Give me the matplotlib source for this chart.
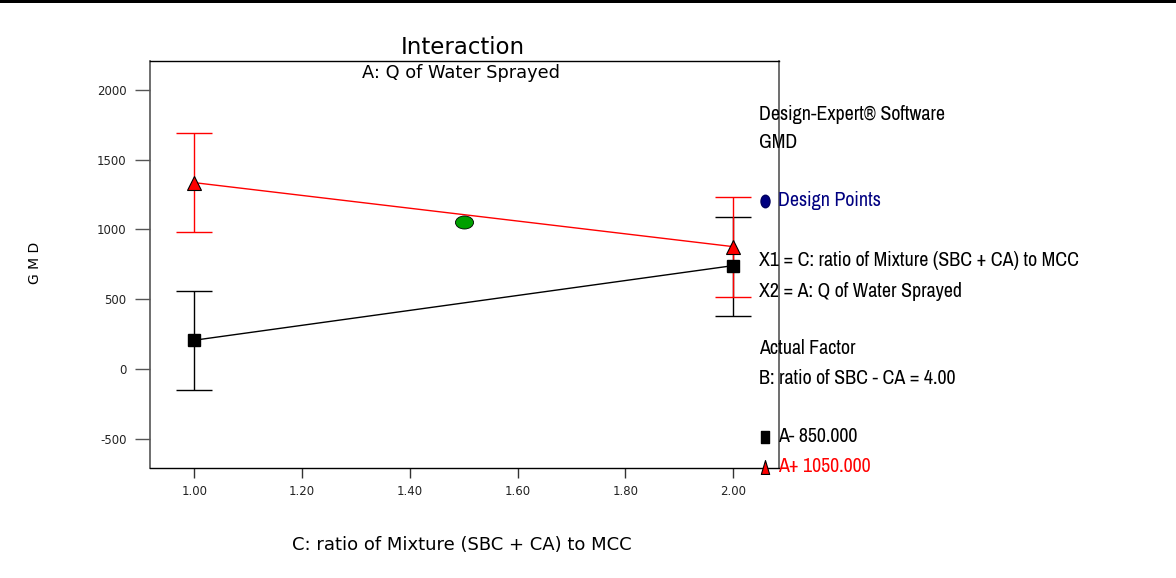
import matplotlib
matplotlib.use("Agg")
import matplotlib.pyplot as plt
import numpy as np
from matplotlib.path import Path
from matplotlib.lines import Line2D
from matplotlib.patches import Rectangle
from matplotlib import font_manager

# ---------------- data ----------------
c_levels = [1.00, 2.00]
a_minus_mean = [206, 741]
a_minus_low = [-153, 382]
a_minus_high = [562, 1092]
a_plus_mean = [1336, 877]
a_plus_low = [980, 519]
a_plus_high = [1695, 1232]
design_c = [1.50]
design_gmd = [1054]

x_ticks = [1.00, 1.20, 1.40, 1.60, 1.80, 2.00]
y_ticks = [-500, 0, 500, 1000, 1500, 2000]

info_lines = ["Design-Expert\u00ae Software", "GMD"]
x1_text = "X1 = C: ratio of Mixture (SBC + CA) to MCC"
x2_text = "X2 = A: Q of Water Sprayed"
actual_lines = ["Actual Factor", "B: ratio of SBC - CA = 4.00"]
lev_minus = "A- 850.000"
lev_plus = "A+ 1050.000"

# ---------------- fonts ----------------
plt.rcParams["font.family"] = ["DejaVu Sans"]
names = sorted({f.name for f in font_manager.fontManager.ttflist})
narrow_font = None
for key in ["Liberation Sans Narrow", "Arial Narrow"]:
    if key in names:
        narrow_font = key
        break
if narrow_font is None:
    for n in names:
        if ("Narrow" in n or "Condensed" in n) and "Mono" not in n and "Serif" not in n:
            narrow_font = n
            break
if narrow_font is None:
    narrow_font = "Liberation Sans" if "Liberation Sans" in names else "DejaVu Sans"

W, H = 1176, 578
fig = plt.figure(figsize=(W / 100, H / 100), dpi=100)
fig.patch.set_facecolor("white")

def fx(px):
    return px / W

def fy(py):
    return 1 - py / H

ax = fig.add_axes([fx(150), fy(468), fx(779) - fx(150), fy(61) - fy(468)])
ax.set_xlim(0.918, 2.085)
ax.set_ylim(-710, 2208)

# error bars
ax.errorbar(c_levels, a_minus_mean,
            yerr=[np.array(a_minus_mean) - np.array(a_minus_low),
                  np.array(a_minus_high) - np.array(a_minus_mean)],
            fmt="none", ecolor="black", elinewidth=1.0, capsize=13, capthick=1.0, zorder=2)
ax.errorbar(c_levels, a_plus_mean,
            yerr=[np.array(a_plus_mean) - np.array(a_plus_low),
                  np.array(a_plus_high) - np.array(a_plus_mean)],
            fmt="none", ecolor="red", elinewidth=1.0, capsize=13, capthick=1.0, zorder=2)

# lines and markers
ax.plot(c_levels, a_minus_mean, color="black", lw=1.0, zorder=3)
ax.plot(c_levels, a_plus_mean, color="red", lw=1.0, zorder=3)
ax.plot(c_levels, a_minus_mean, ls="none", marker="s", ms=8.5, mfc="black",
        mec="black", zorder=4)
ax.plot(c_levels, a_plus_mean, ls="none", marker="^", ms=10, mfc="red",
        mec="black", mew=0.8, zorder=4)

circ = Path.unit_circle()
ell = Path(circ.vertices * np.array([1.0, 0.72]), circ.codes)
ax.plot(design_c, design_gmd, ls="none", marker=ell, ms=13, mfc="#00a000",
        mec="black", mew=0.6, zorder=4)

# axes styling
ax.set_xticks(x_ticks)
ax.set_xticklabels([f"{v:.2f}" for v in x_ticks])
ax.set_yticks(y_ticks)
ax.set_yticklabels([str(v) for v in y_ticks])
ax.tick_params(axis="y", direction="out", length=11, width=1.0, color="#555555",
               labelsize=8.5, labelcolor="#222222", pad=6)
ax.tick_params(axis="x", direction="out", length=7.5, width=1.0, color="#333333",
               labelsize=8.5, labelcolor="#222222", pad=5)
for side in ["left", "right"]:
    ax.spines[side].set_color("#555555")
    ax.spines[side].set_linewidth(1.2)
for side in ["top", "bottom"]:
    ax.spines[side].set_color("black")
    ax.spines[side].set_linewidth(1.0)
ax.patch.set_alpha(0)

# titles / labels
fig.text(fx(463), fy(47), "Interaction", ha="center", va="center", fontsize=16.5)
fig.text(fx(461), fy(73), "A: Q of Water Sprayed", ha="center", va="center", fontsize=12.8)
fig.text(fx(462), fy(545), "C: ratio of Mixture (SBC + CA) to MCC", ha="center",
         va="center", fontsize=13)
fig.text(fx(35), fy(263), "G M D", ha="center", va="center", rotation=90, fontsize=10)

# right info block: size chosen so the longest line spans ~321 px
renderer = fig.canvas.get_renderer()
probe = fig.text(0, 0, x1_text, family=[narrow_font, "DejaVu Sans"], fontsize=10)
pw = probe.get_window_extent(renderer).width
probe.remove()
nfs = min(15.0, 10.0 * 321.0 / pw)

nf = dict(family=[narrow_font, "DejaVu Sans"], fontsize=nfs, va="center", ha="left")
fig.text(fx(759), fy(114), info_lines[0], **nf)
fig.text(fx(759), fy(143), info_lines[1], **nf)
fig.text(fx(778), fy(201), "Design Points", color="#000080", **nf)
fig.text(fx(759), fy(261), x1_text, **nf)
fig.text(fx(759), fy(291), x2_text, **nf)
fig.text(fx(759), fy(349), actual_lines[0], **nf)
fig.text(fx(759), fy(379), actual_lines[1], **nf)
fig.text(fx(778), fy(437), lev_minus, **nf)
fig.text(fx(778), fy(467), lev_plus, color="red", **nf)

ell_v = Path(circ.vertices * np.array([0.72, 1.0]), circ.codes)
fig.add_artist(Line2D([fx(765)], [fy(201)], ls="none", marker=ell_v, ms=9,
                      mfc="#000080", mec="#000060", transform=fig.transFigure))
sq = Path([(-0.6, -1), (0.6, -1), (0.6, 1), (-0.6, 1), (-0.6, -1)],
          [Path.MOVETO, Path.LINETO, Path.LINETO, Path.LINETO, Path.CLOSEPOLY])
fig.add_artist(Line2D([fx(765)], [fy(437)], ls="none", marker=sq, ms=9,
                      mfc="black", mec="black", transform=fig.transFigure))
tri = Path([(-0.6, -1), (0.6, -1), (0, 1), (-0.6, -1)],
           [Path.MOVETO, Path.LINETO, Path.LINETO, Path.CLOSEPOLY])
fig.add_artist(Line2D([fx(765)], [fy(467)], ls="none", marker=tri, ms=10,
                      mfc="red", mec="black", mew=0.8, transform=fig.transFigure))

# top border line
fig.add_artist(Rectangle((0, fy(3)), 1, fy(0) - fy(3), transform=fig.transFigure,
                         facecolor="black", edgecolor="none"))

fig.savefig("out.png", dpi=100, facecolor="white")
